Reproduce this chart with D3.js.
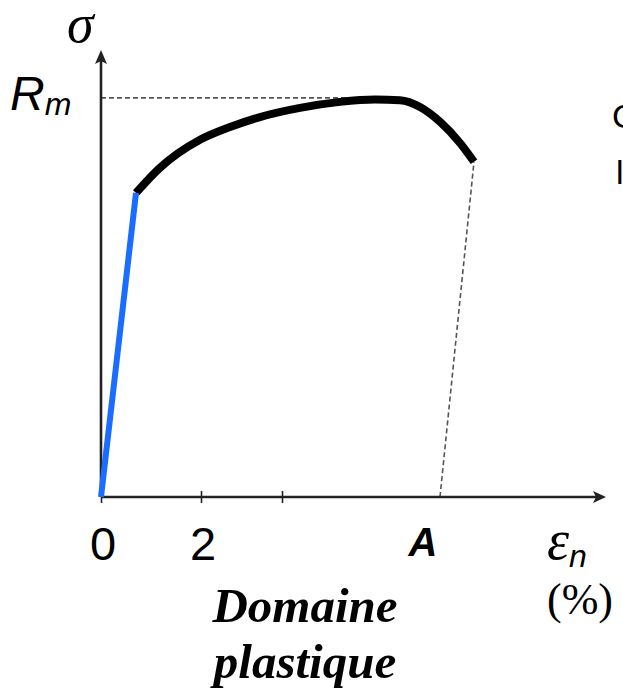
<!DOCTYPE html>
<html><head><meta charset="utf-8">
<script src="https://cdn.jsdelivr.net/npm/d3@7"></script>
<style>body{margin:0;background:#fff}svg{display:block}</style>
</head><body>
<script>
// strain (%) and stress (% of Rm)
const elasticX = [0, 0.70];
const elasticY = [0, 76.2];
const plasticX = [0.70, 1.18, 1.98, 2.58, 3.18, 3.98, 4.78, 5.48, 5.98, 6.38, 6.78, 7.18, 7.46];
const plasticY = [76.2, 82.5, 89.5, 92.7, 95.2, 97.5, 99.0, 99.6, 99.4, 97.7, 94.0, 88.7, 84.0];
const xTicks = [0, 2, 3.62];
const xTickLabels = ["0", "2", ""];
const Rm = 100;
const A = 6.78;

const W = 623, H = 697;
const svg = d3.select("body").append("svg").attr("width", W).attr("height", H);
const x = d3.scaleLinear().domain([0, 10.1]).range([101, 606]);
const y = d3.scaleLinear().domain([0, 112]).range([497, 50]);

// dashed helpers
svg.append("line").attr("x1", x(0)).attr("x2", x(5.55)).attr("y1", y(Rm)).attr("y2", y(Rm))
  .attr("stroke", "#555").attr("stroke-width", 1.6).attr("stroke-dasharray", "5,3");
svg.append("line").attr("x1", x(A)).attr("y1", y(0)).attr("x2", x(plasticX[plasticX.length-1])).attr("y2", y(plasticY[plasticY.length-1]))
  .attr("stroke", "#555").attr("stroke-width", 1.6).attr("stroke-dasharray", "5,3");

// axes
const xAxis = d3.axisBottom(x).tickValues(xTicks).tickFormat("").tickSize(6);
const gx = svg.append("g").attr("transform", `translate(0,${y(0)})`).call(xAxis);
gx.select(".domain").remove();
gx.selectAll(".tick line").attr("y1", -6).attr("y2", 6).attr("stroke", "#222").attr("stroke-width", 1.6);
svg.append("line").attr("x1", x(0)).attr("x2", 596).attr("y1", y(0)).attr("y2", y(0)).attr("stroke", "#222").attr("stroke-width", 2.6);
svg.append("path").attr("d", `M606,${y(0)} L593,${y(0)-6} L596,${y(0)} L593,${y(0)+6} Z`).attr("fill", "#222");
svg.append("line").attr("x1", x(0)).attr("x2", x(0)).attr("y1", y(0)).attr("y2", 60).attr("stroke", "#222").attr("stroke-width", 2.6);
svg.append("path").attr("d", `M${x(0)},50 L${x(0)-6},64 L${x(0)},61 L${x(0)+6},64 Z`).attr("fill", "#222");

// tick labels
const sans = "Liberation Sans, Arial, sans-serif";
const serif = "Liberation Serif, Times New Roman, serif";
svg.selectAll("text.tl").data(xTicks.map((v, i) => ({v, t: xTickLabels[i]}))).enter().append("text")
  .attr("x", d => x(d.v) + 2).attr("y", 560).attr("text-anchor", "middle")
  .style("font-family", sans).style("font-size", "47px").text(d => d.t);

// curves
const line = d3.line().x(d => x(d[0])).y(d => y(d[1])).curve(d3.curveMonotoneX);
svg.append("path").datum(plasticX.map((v, i) => [v, plasticY[i]])).attr("d", line)
  .attr("fill", "none").attr("stroke", "#000").attr("stroke-width", 8).attr("stroke-linecap", "butt");
svg.append("path").datum(elasticX.map((v, i) => [v, elasticY[i]])).attr("d", d3.line().x(d => x(d[0])).y(d => y(d[1])))
  .attr("fill", "none").attr("stroke", "#1a6dff").attr("stroke-width", 6);

// labels
svg.append("text").attr("x", 67).attr("y", 42).style("font-family", serif).style("font-style", "italic").style("font-size", "54px").text("σ");
const rm = svg.append("text").attr("x", 10).attr("y", 110).style("font-family", sans).style("font-style", "italic").style("font-size", "48px");
rm.append("tspan").text("R");
rm.append("tspan").attr("dy", 5).style("font-size", "32px").text("m");
svg.append("text").attr("x", 423).attr("y", 556).attr("text-anchor", "middle").style("font-family", sans)
  .style("font-weight", "bold").style("font-style", "italic").style("font-size", "40px").text("A");
const eps = svg.append("text").attr("x", 547).attr("y", 559).style("font-family", serif).style("font-style", "italic").style("font-size", "56px");
eps.append("tspan").text("ε");
eps.append("tspan").attr("dy", 8).style("font-family", sans).style("font-size", "32px").text("n");
svg.append("text").attr("x", 580).attr("y", 614).attr("text-anchor", "middle").style("font-family", serif).style("font-size", "44px").text("(%)");
svg.append("text").attr("x", 305).attr("y", 622).attr("text-anchor", "middle").style("font-family", serif)
  .style("font-weight", "bold").style("font-style", "italic").style("font-size", "49px").text("Domaine");
svg.append("text").attr("x", 305).attr("y", 678).attr("text-anchor", "middle").style("font-family", serif)
  .style("font-weight", "bold").style("font-style", "italic").style("font-size", "49px").text("plastique");
// partially visible text at the right edge (cut off in the reference)
svg.append("text").attr("x", 612).attr("y", 128).style("font-family", sans).style("font-size", "34px").text("C");
svg.append("text").attr("x", 616).attr("y", 184).style("font-family", sans).style("font-size", "34px").text("l");
</script>
</body></html>
